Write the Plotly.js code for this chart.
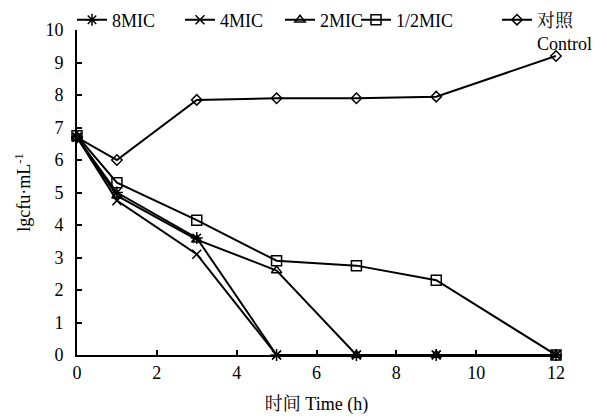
<!DOCTYPE html>
<html>
<head>
<meta charset="utf-8">
<script src="https://cdn.plot.ly/plotly-3.0.1.min.js"></script>
<style>html,body{margin:0;padding:0;background:#fff;}#chart{width:607px;height:418px;}</style>
</head>
<body>
<div id="chart"></div>
<script>
const time = [0, 1, 3, 5, 7, 9, 12];
const mic8 = [6.7, 5.0, 3.6, 0, 0, 0, 0];
const mic4 = [6.7, 4.75, 3.1, 0, 0, 0, 0];
const mic2 = [6.7, 4.9, 3.55, 2.6, 0, 0, 0];
const mic05 = [6.75, 5.3, 4.15, 2.9, 2.75, 2.3, 0];
const control = [6.7, 6.0, 7.85, 7.9, 7.9, 7.95, 9.2];
const names = ['8MIC', '4MIC', '2MIC', '1/2MIC', '对照<br>Control'];
const xTicks = [0, 2, 4, 6, 8, 10, 12];
const yTicks = [0, 1, 2, 3, 4, 5, 6, 7, 8, 9, 10];

const FONT = '"Liberation Serif", "Times New Roman", "Noto Serif CJK SC", "Noto Sans CJK SC", serif';
const series = [mic8, mic4, mic2, mic05, control];
const symbols = ['asterisk-open', 'x-thin-open', 'triangle-up-open', 'square-open', 'diamond-open'];
const sizes = [10, 9, 9, 10, 8];
const legendIds = ['legend', 'legend2', 'legend3', 'legend4', 'legend5'];
const legendLeftPx = [72, 180, 280, 356, 497];

const traces = series.map((ys, i) => ({
  x: time, y: ys, name: names[i], type: 'scatter', mode: 'lines+markers',
  cliponaxis: false, legend: legendIds[i],
  line: {color: '#000', width: 2},
  marker: {symbol: symbols[i], size: sizes[i], color: '#000', line: {color: '#000', width: 1.5}}
}));

const W = 607, H = 418;
const layout = {
  width: W, height: H,
  margin: {l: 77, r: 51, t: 30, b: 63, autoexpand: false},
  paper_bgcolor: '#fff', plot_bgcolor: '#fff',
  font: {family: FONT, size: 18, color: '#000'},
  showlegend: true,
  xaxis: {
    range: [0, 12], tickmode: 'array', tickvals: xTicks, ticktext: xTicks.map(String),
    ticks: 'inside', ticklen: 5, tickwidth: 2, tickcolor: '#000',
    showline: true, linecolor: '#000', linewidth: 2, showgrid: false, zeroline: false,
    tickfont: {family: FONT, size: 18, color: '#000'},
    title: {text: '时间 Time (h)', font: {family: FONT, size: 18, color: '#000'}, standoff: 16}
  },
  yaxis: {
    range: [0, 10], tickmode: 'array', tickvals: yTicks, ticktext: yTicks.map(String),
    ticks: 'inside', ticklen: 5, tickwidth: 2, tickcolor: '#000', ticklabelstandoff: 8,
    showline: true, linecolor: '#000', linewidth: 2, showgrid: false, zeroline: false,
    tickfont: {family: FONT, size: 18, color: '#000'},
    title: {text: 'lgcfu·mL<sup>-1</sup>', font: {family: FONT, size: 18, color: '#000'}, standoff: 10}
  }
};
legendIds.forEach((id, i) => {
  layout[id] = {
    orientation: 'h', xref: 'container', yref: 'container',
    x: legendLeftPx[i] / W, xanchor: 'left', y: 1 - 1.5 / H, yanchor: 'top',
    font: {family: FONT, size: 18, color: '#000'}, valign: 'top',
    bgcolor: 'rgba(0,0,0,0)', borderwidth: 0
  };
});

Plotly.newPlot('chart', traces, layout, {displayModeBar: false, staticPlot: true});
</script>
</body>
</html>
